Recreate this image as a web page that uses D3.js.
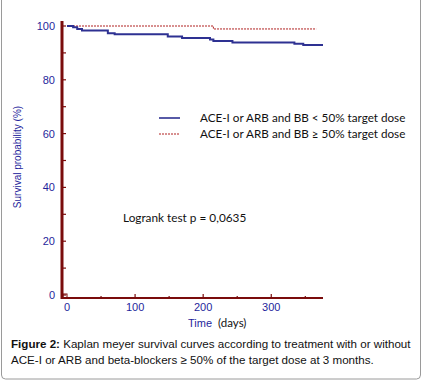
<!DOCTYPE html>
<html>
<head>
<meta charset="utf-8">
<script src="https://cdn.jsdelivr.net/npm/d3@7"></script>
<style>
  body { margin: 0; background: #fff; }
  #container { width: 422px; height: 381px; }
</style>
</head>
<body>
<div id="container"></div>
<script>
// Kaplan-Meier steps (time in days, survival %)
const lowDoseTimes = [0, 9, 15, 22, 60, 70, 148, 169, 210, 215, 243, 334, 347, 376];
const lowDoseSurv  = [100, 99.5, 98.9, 98.3, 97.3, 96.9, 96.1, 95.5, 95.0, 94.4, 93.9, 93.4, 92.9, 92.9];
const highDoseTimes = [0, 215, 366];
const highDoseSurv  = [100, 98.9, 98.9];

const yTicks = [0, 20, 40, 60, 80, 100];
const yMinor = [10, 30, 50, 70, 90];
const xTicks = [0, 100, 200, 300];
const xMinor = [50, 150, 250, 350];

const legendLabels = [
  "ACE-I or ARB and BB < 50% target dose",
  "ACE-I or ARB and BB \u2265 50% target dose"
];

const width = 422, height = 381;
const svg = d3.select("#container").append("svg")
  .attr("width", width).attr("height", height);

// frame
svg.append("rect")
  .attr("x", 1.5).attr("y", -6)
  .attr("width", 419).attr("height", 385)
  .attr("rx", 4)
  .attr("fill", "none")
  .attr("stroke", "#9a9a9a");

const x = d3.scaleLinear().domain([0, 376]).range([67, 323]);
const y = d3.scaleLinear().domain([0, 100]).range([295, 26]);

const axisCol = "#7a0c0c";
const labelCol = "#1f1f9c";

// y axis
svg.append("line")
  .attr("x1", 62).attr("x2", 62).attr("y1", 21).attr("y2", 299)
  .attr("stroke", axisCol).attr("stroke-width", 3);
svg.selectAll(".ytick").data(yTicks.concat(yMinor)).enter().append("line")
  .attr("x1", 62).attr("x2", 66)
  .attr("y1", d => y(d)).attr("y2", d => y(d))
  .attr("stroke", axisCol).attr("stroke-width", 1.2);
svg.selectAll(".ylab").data(yTicks).enter().append("text")
  .attr("x", 55).attr("y", d => y(d) + 4)
  .attr("text-anchor", "end")
  .attr("fill", labelCol)
  .style("font", "11px 'Liberation Sans', Arial, sans-serif")
  .text(d => d);

// x axis
svg.append("line")
  .attr("x1", 61).attr("x2", 323).attr("y1", 298).attr("y2", 298)
  .attr("stroke", axisCol).attr("stroke-width", 2);
svg.selectAll(".xtick").data(xTicks.concat(xMinor).filter(d => d > 0)).enter().append("line")
  .attr("x1", d => x(d)).attr("x2", d => x(d))
  .attr("y1", 298).attr("y2", d => xTicks.includes(d) ? 294 : 296)
  .attr("stroke", axisCol).attr("stroke-width", 1.2);
svg.selectAll(".xlab").data(xTicks).enter().append("text")
  .attr("x", d => x(d)).attr("y", 311)
  .attr("text-anchor", "middle")
  .attr("fill", labelCol)
  .style("font", "11px 'Liberation Sans', Arial, sans-serif")
  .text(d => d);

// small square at origin
svg.append("rect")
  .attr("x", 63).attr("y", 294).attr("width", 4).attr("height", 4)
  .attr("fill", "none").attr("stroke", axisCol).attr("stroke-width", 1);

// axis titles
svg.append("text")
  .attr("transform", "translate(21,157) rotate(-90)")
  .attr("text-anchor", "middle")
  .attr("fill", labelCol)
  .style("font", "10px 'Liberation Sans', Arial, sans-serif")
  .text("Survival probability (%)");

const xt = svg.append("text")
  .attr("x", 188).attr("y", 327)
  .style("font", "11px 'Liberation Sans', Arial, sans-serif");
xt.append("tspan").attr("fill", labelCol).text("Time");
xt.append("tspan").attr("fill", "#111").attr("dx", 6)
  .style("font-family", "Lato, 'Open Sans', sans-serif").style("font-size", "11.5px")
  .text("(days)");

// curves
const step = d3.line().curve(d3.curveStepAfter)
  .x(d => x(d[0])).y(d => y(d[1]));

svg.append("path")
  .datum(highDoseTimes.map((t, i) => [t, highDoseSurv[i]]))
  .attr("d", step)
  .attr("fill", "none")
  .attr("stroke", "#b02020")
  .attr("stroke-width", 1)
  .attr("stroke-dasharray", "2,1");

svg.append("path")
  .datum(lowDoseTimes.map((t, i) => [t, lowDoseSurv[i]]))
  .attr("d", step)
  .attr("fill", "none")
  .attr("stroke", "#2e3192")
  .attr("stroke-width", 2);

// legend
const legY = [118, 134];
svg.append("line").attr("x1", 159).attr("x2", 180).attr("y1", legY[0]).attr("y2", legY[0])
  .attr("stroke", "#2e3192").attr("stroke-width", 1.6);
svg.append("line").attr("x1", 159).attr("x2", 180).attr("y1", legY[1]).attr("y2", legY[1])
  .attr("stroke", "#b02020").attr("stroke-width", 1).attr("stroke-dasharray", "2,1");
svg.selectAll(".leg").data(legendLabels).enter().append("text")
  .attr("x", 200).attr("y", (d, i) => legY[i] + 4)
  .attr("fill", "#111")
  .style("font", "11.7px Lato, 'Open Sans', sans-serif")
  .text(d => d);

svg.append("text")
  .attr("x", 123).attr("y", 222)
  .attr("fill", "#111")
  .style("font", "11.8px Lato, 'Open Sans', sans-serif")
  .text("Logrank test p = 0,0635");

// caption
const cap = svg.append("g")
  .style("font", "11.6px 'Liberation Sans', Arial, sans-serif")
  .attr("fill", "#111");
const l1 = cap.append("text").attr("x", 11).attr("y", 348);
l1.append("tspan").style("font-weight", "bold").text("Figure 2:");
l1.append("tspan").text(" Kaplan meyer survival curves according to treatment with or without");
cap.append("text").attr("x", 11).attr("y", 364)
  .text("ACE-I or ARB and beta-blockers \u2265 50% of the target dose at 3 months.");
</script>
</body>
</html>
